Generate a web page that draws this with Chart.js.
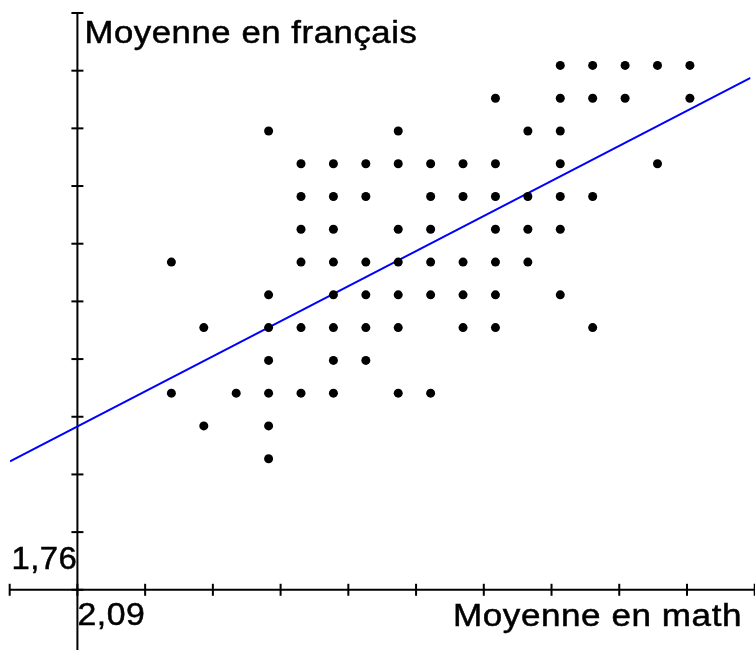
<!DOCTYPE html>
<html>
<head>
<meta charset="utf-8">
<script src="https://cdn.jsdelivr.net/npm/chart.js@4/dist/chart.umd.min.js"></script>
<style>
  html, body { margin: 0; padding: 0; background: #fff; overflow: hidden; }
  canvas { display: block; }
</style>
</head>
<body>
<canvas id="nuage" width="755" height="650"></canvas>
<script>
const moyMath = [
  15, 16, 17, 18, 19,
  13, 15, 16, 17, 19,
  6, 10, 14, 15,
  7, 8, 9, 10, 11, 12, 13, 15, 18,
  7, 8, 9, 11, 12, 13, 14, 15, 16,
  7, 8, 10, 11, 13, 14, 15,
  3, 7, 8, 9, 10, 11, 12, 13, 14,
  6, 8, 9, 10, 11, 12, 13, 15,
  4, 6, 7, 8, 9, 10, 12, 13, 16,
  6, 8, 9,
  3, 5, 6, 7, 8, 10, 11,
  4, 6,
  6
];
const moyFrancais = [
  16, 16, 16, 16, 16,
  15, 15, 15, 15, 15,
  14, 14, 14, 14,
  13, 13, 13, 13, 13, 13, 13, 13, 13,
  12, 12, 12, 12, 12, 12, 12, 12, 12,
  11, 11, 11, 11, 11, 11, 11,
  10, 10, 10, 10, 10, 10, 10, 10, 10,
  9, 9, 9, 9, 9, 9, 9, 9,
  8, 8, 8, 8, 8, 8, 8, 8, 8,
  7, 7, 7,
  6, 6, 6, 6, 6, 6, 6,
  5, 5,
  4
];

// droite de régression (extrémités)
const droiteX = [-1.98, 20.87];
const droiteY = [3.92, 15.62];

// graduations des axes
const gradX = [-1.99, 0.1, 2.19, 4.28, 6.37, 8.46, 10.55, 12.64, 14.73, 16.82, 18.91, 21.0];
const gradY = [0, 1.76, 3.52, 5.28, 7.04, 8.8, 10.56, 12.32, 14.08, 15.84, 17.6];
const origineX = 0.1;
const origineY = 0;
const labelX = '2,09';
const labelY = '1,76';
const titreX = 'Moyenne en math';
const titreY = 'Moyenne en français';

const points = moyMath.map((m, i) => ({ x: m, y: moyFrancais[i] }));
const droite = droiteX.map((v, i) => ({ x: v, y: droiteY[i] }));

// texte un peu étiré comme dans l'original
function texteEtire(ctx, txt, x, y, taille, largeur, align) {
  ctx.save();
  ctx.font = taille + 'px "Liberation Sans", Arial, sans-serif';
  if ('letterSpacing' in ctx) ctx.letterSpacing = '0.5px';
  const w = ctx.measureText(txt).width;
  const sx = largeur / w;
  ctx.translate(x, y);
  ctx.scale(sx, 1);
  ctx.textAlign = 'left';
  ctx.textBaseline = 'alphabetic';
  ctx.fillStyle = '#000';
  ctx.strokeStyle = '#000';
  ctx.lineWidth = 0.5;
  const px = align === 'right' ? -w : 0;
  ctx.fillText(txt, px, 0);
  ctx.strokeText(txt, px, 0);
  ctx.restore();
}

const axesPlugin = {
  id: 'axes',
  beforeDatasetsDraw(chart) {
    const { ctx, width, height } = chart;
    const sx = chart.scales.x, sy = chart.scales.y;
    const ox = sx.getPixelForValue(origineX);
    const oy = sy.getPixelForValue(origineY);
    const trait = (x1, y1, x2, y2) => {
      ctx.beginPath(); ctx.moveTo(x1, y1); ctx.lineTo(x2, y2); ctx.stroke();
    };
    ctx.save();
    ctx.strokeStyle = '#000';
    ctx.lineWidth = 2;
    // axe horizontal
    trait(sx.getPixelForValue(gradX[0]), oy, width, oy);
    // axe vertical
    const haut = sy.getPixelForValue(gradY[gradY.length - 1]);
    trait(ox, haut, ox, height);
    // graduations
    gradX.forEach(v => {
      const p = sx.getPixelForValue(v);
      trait(p, oy - 6, p, oy + 6);
    });
    gradY.forEach(v => {
      const p = sy.getPixelForValue(v);
      trait(ox - 6, p, ox + 6, p);
    });
    ctx.restore();

    texteEtire(ctx, labelY, ox, oy - 21, 31, 66, 'right');
    texteEtire(ctx, labelX, ox, oy + 35, 31, 68, 'left');
    texteEtire(ctx, titreX, 453, oy + 36, 31, 289, 'left');
    texteEtire(ctx, titreY, ox + 7, haut + 30, 31, 333, 'left');
  }
};

new Chart(document.getElementById('nuage'), {
  type: 'scatter',
  data: {
    datasets: [
      {
        type: 'line',
        label: 'droite',
        data: droite,
        borderColor: '#0000ff',
        borderWidth: 2,
        pointRadius: 0,
        fill: false,
        order: 2
      },
      {
        label: 'élèves',
        data: points,
        backgroundColor: '#000',
        borderColor: '#000',
        borderWidth: 0,
        pointRadius: 4.5,
        order: 1
      }
    ]
  },
  options: {
    responsive: false,
    animation: false,
    devicePixelRatio: 1,
    layout: { padding: { left: 10, top: 13, right: 0, bottom: 0 } },
    plugins: { legend: { display: false }, tooltip: { enabled: false } },
    scales: {
      x: { type: 'linear', display: false, min: -1.98, max: 20.87 },
      y: { type: 'linear', display: false, min: -1.7, max: 17.6 }
    }
  },
  plugins: [axesPlugin]
});
</script>
</body>
</html>
